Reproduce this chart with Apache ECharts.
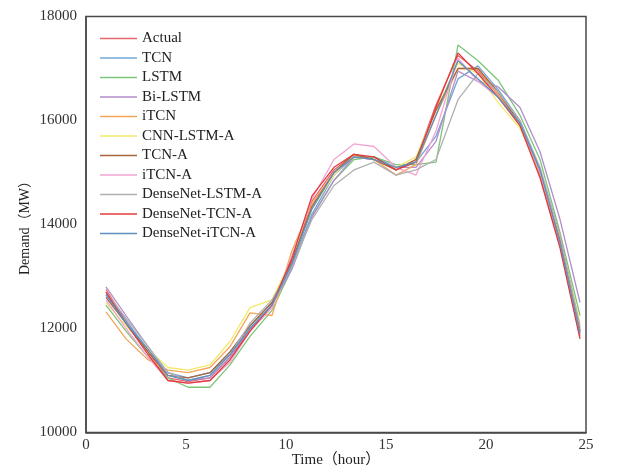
<!DOCTYPE html>
<html>
<head>
<meta charset="utf-8">
<script src="https://cdn.jsdelivr.net/npm/echarts@6/dist/echarts.min.js"></script>
<style>
  html, body { margin: 0; padding: 0; background: #fff; }
  #chart { width: 622px; height: 469px; }
</style>
</head>
<body>
<div id="chart"></div>
<script>
// Hour positions of the forecast points
const hours = [1.0, 2.0, 3.1, 4.1, 5.1, 6.2, 7.2, 8.2, 9.3, 10.3, 11.3, 12.4,
               13.4, 14.4, 15.5, 16.5, 17.5, 18.6, 19.6, 20.6, 21.7, 22.7, 23.7, 24.7];

// Demand per model (MW)
const actual        = [12750, 12150, 11550, 11050, 10980, 11050, 11450, 11950, 12450, 13250, 14450, 15050, 15350, 15250, 15050, 15250, 16300, 17250, 16950, 16500, 15950, 14950, 13600, 11850];
const tcn           = [12650, 12150, 11600, 11150, 11050, 11150, 11550, 12050, 12500, 13200, 14200, 14950, 15300, 15300, 15100, 15200, 15700, 16800, 17050, 16600, 16000, 15050, 13700, 11950];
const lstm          = [12450, 11950, 11450, 11050, 10870, 10870, 11300, 11850, 12350, 13150, 14150, 14850, 15250, 15300, 15150, 15150, 15200, 17450, 17150, 16780, 16100, 15250, 13850, 12250];
const biLstm        = [12800, 12250, 11650, 11150, 11000, 11050, 11450, 12000, 12450, 13150, 14150, 14850, 15300, 15250, 15100, 15100, 15600, 16950, 16750, 16650, 16250, 15400, 14100, 12500];
const itcn          = [12320, 11800, 11400, 11200, 11150, 11250, 11650, 12300, 12250, 13500, 14400, 15000, 15300, 15250, 14950, 15150, 16100, 17000, 17000, 16500, 15900, 15000, 13650, 12000];
const cnnLstmA      = [12500, 12050, 11600, 11250, 11200, 11300, 11750, 12400, 12550, 13350, 14300, 14950, 15350, 15250, 15100, 15300, 16200, 17100, 16900, 16350, 15850, 15000, 13750, 12100];
const tcnA          = [12600, 12100, 11550, 11100, 11050, 11150, 11550, 12050, 12500, 13300, 14350, 15000, 15350, 15250, 15050, 15250, 16200, 17000, 17000, 16550, 15950, 15000, 13700, 11950];
const itcnA         = [12550, 12000, 11450, 11000, 10950, 11000, 11350, 11950, 12400, 13400, 14500, 15250, 15550, 15500, 15100, 14950, 15800, 17200, 16750, 16450, 15950, 15000, 13650, 11900];
const denseLstmA    = [12700, 12200, 11650, 11150, 11000, 11100, 11500, 12100, 12550, 13200, 14100, 14750, 15050, 15200, 14950, 15050, 15250, 16400, 16900, 16550, 16000, 15100, 13800, 12050];
const denseTcnA     = [12700, 12100, 11500, 11000, 10950, 11000, 11400, 11950, 12450, 13350, 14550, 15100, 15350, 15300, 15050, 15200, 16250, 17300, 16900, 16450, 15900, 14900, 13550, 11800];
const denseItcnA    = [12650, 12100, 11600, 11100, 11000, 11100, 11500, 12000, 12450, 13250, 14300, 15000, 15300, 15250, 15100, 15200, 16100, 17150, 16800, 16450, 15950, 15050, 13650, 11900];

const seriesNames = ['Actual', 'TCN', 'LSTM', 'Bi-LSTM', 'iTCN', 'CNN-LSTM-A', 'TCN-A', 'iTCN-A',
                     'DenseNet-LSTM-A', 'DenseNet-TCN-A', 'DenseNet-iTCN-A'];
const seriesValues = [actual, tcn, lstm, biLstm, itcn, cnnLstmA, tcnA, itcnA, denseLstmA, denseTcnA, denseItcnA];
const seriesColors = ['#e8656d', '#6fa8d8', '#7cc57a', '#b48ccb', '#f5a65b', '#f2ea6a', '#a8653a',
                      '#f2a4d2', '#b0b0b0', '#e23a3a', '#5f8fc0'];

const xRange = [0, 25];
const yRange = [10000, 18000];

const serif = '"Liberation Serif", "DejaVu Serif", "Noto Sans CJK SC", serif';

const chart = echarts.init(document.getElementById('chart'), null, { renderer: 'canvas' });

chart.setOption({
  animation: false,
  backgroundColor: '#ffffff',
  grid: {
    left: 86, right: 36, top: 16.5, bottom: 36.5,
    outerBoundsMode: 'none',
    show: true, borderColor: '#4a4a4a', borderWidth: 1.5, backgroundColor: 'transparent'
  },
  legend: {
    orient: 'vertical',
    left: 95, top: 26,
    icon: 'rect',
    itemWidth: 37, itemHeight: 1.4, itemGap: 4.5,
    textStyle: { fontFamily: serif, fontSize: 15, color: '#222' },
    data: seriesNames
  },
  xAxis: {
    type: 'value',
    min: xRange[0], max: xRange[1], interval: 5,
    name: 'Time（hour）',
    nameLocation: 'middle', nameGap: 20, nameMoveOverlap: false,
    nameTextStyle: { fontFamily: serif, fontSize: 15, color: '#222' },
    axisLine: { show: true, lineStyle: { color: '#4a4a4a', width: 1.5 } },
    axisTick: { show: false },
    splitLine: { show: false },
    axisLabel: { fontFamily: serif, fontSize: 15, color: '#333', margin: 5 }
  },
  yAxis: {
    type: 'value',
    min: yRange[0], max: yRange[1], interval: 2000,
    name: 'Demand（MW）',
    nameLocation: 'middle', nameGap: 54, nameMoveOverlap: false,
    nameTextStyle: { fontFamily: serif, fontSize: 14, color: '#222' },
    axisLine: { show: true, lineStyle: { color: '#4a4a4a', width: 1.5 } },
    axisTick: { show: false },
    splitLine: { show: false },
    axisLabel: { fontFamily: serif, fontSize: 15, color: '#333', margin: 9, formatter: v => String(v) }
  },
  series: seriesNames.map((name, i) => ({
    name: name,
    type: 'line',
    symbol: 'none',
    lineStyle: { width: 1.3, color: seriesColors[i] },
    itemStyle: { color: seriesColors[i] },
    data: hours.map((h, k) => [h, seriesValues[i][k]])
  }))
});
</script>
</body>
</html>
